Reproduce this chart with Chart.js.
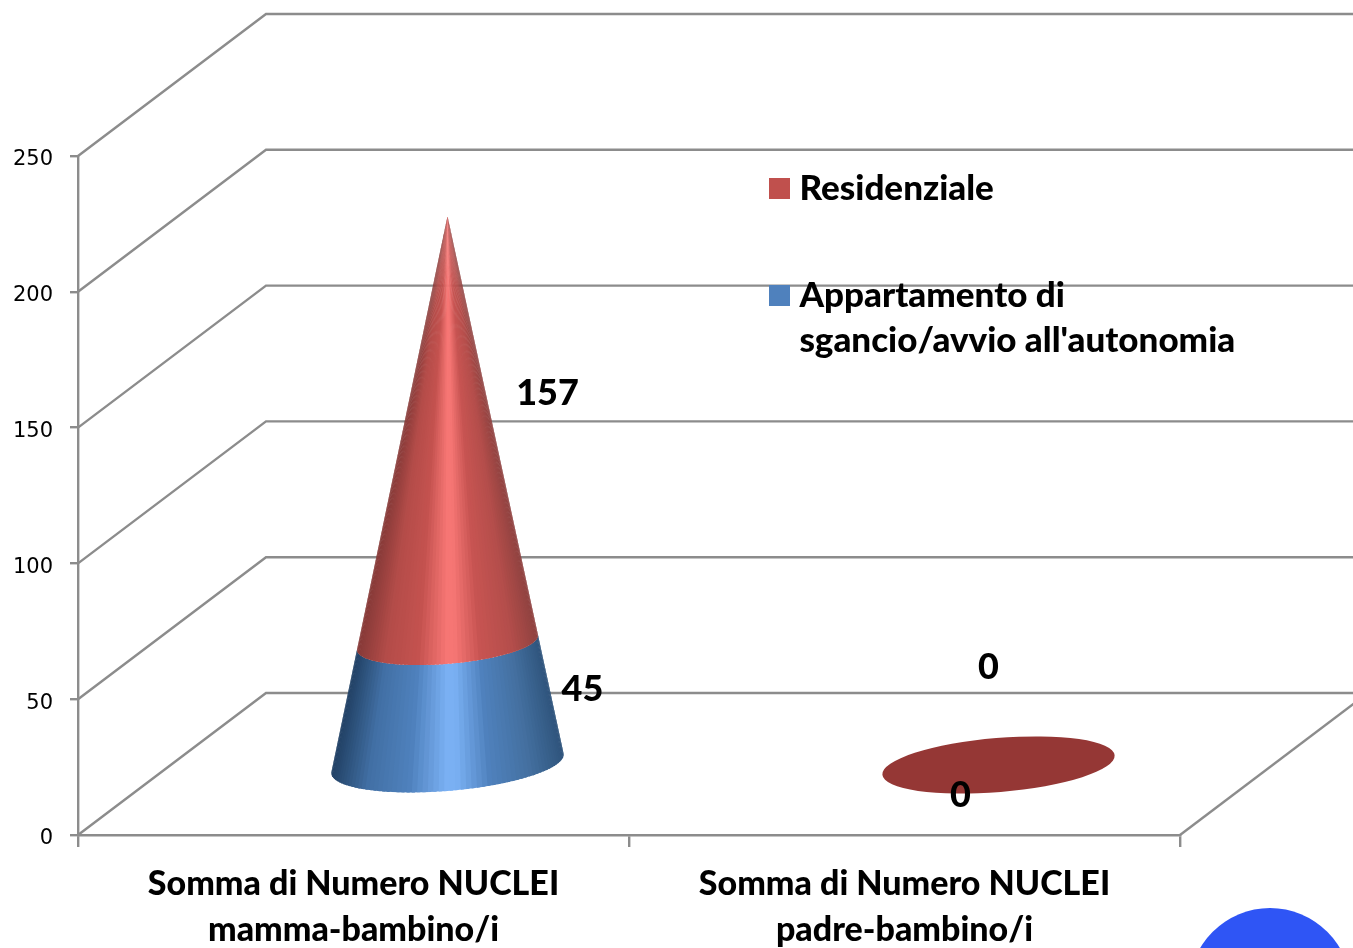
<!DOCTYPE html>
<html><head><meta charset="utf-8">
<style>html,body{margin:0;padding:0;background:#fff;overflow:hidden}canvas{display:block}</style>
<script src="https://cdn.jsdelivr.net/npm/chart.js@4/dist/chart.umd.min.js"></script>
</head><body><canvas id="c" width="1353" height="948"></canvas>
<script>
const categories = [["Somma di Numero NUCLEI","mamma-bambino/i"],["Somma di Numero NUCLEI","padre-bambino/i"]];
const appartamento = [45,0];
const residenziale = [157,0];
const appartamentoName = ["Appartamento di","sgancio/avvio all'autonomia"];
const residenzialeName = "Residenziale";
const yTicks = {min:0,max:250,step:50};

const GRID='#8c8c8c', DX=188, DY=142, FLOOR_MID=DY/2-1;
const FF='Lato, Carlito, "Open Sans", sans-serif';
const ramp = [
 [[-1,[34,66,102]],[-.7,[66,112,165]],[-.35,[79,129,189]],[-.03,[122,176,243]],[.06,[122,176,243]],[.35,[79,129,189]],[.7,[68,112,160]],[1,[47,84,124]]],
 [[-1,[135,58,56]],[-.7,[180,76,73]],[-.35,[196,82,79]],[-.03,[246,118,116]],[.06,[246,118,116]],[.35,[199,84,82]],[.7,[181,78,75]],[1,[143,66,64]]]
];
function shade(r,t){
  for(let i=1;i<r.length;i++){ if(t<=r[i][0]){
    const a=r[i-1],b=r[i],k=Math.max(0,(t-a[0])/(b[0]-a[0]));
    return 'rgb('+a[1].map((v,j)=>Math.round(v+(b[1][j]-v)*k)).join(',')+')';
  }}
  return 'rgb('+r[r.length-1][1].join(',')+')';
}
const labelOffsets=[[[135,-13],[-38,31]],[[100,-35],[-10,-97]]];
function boxImage(color){
  const c=document.createElement('canvas');c.width=21;c.height=21;
  const x=c.getContext('2d');x.fillStyle=color;x.fillRect(0,0,21,21);return c;
}
const LEGEND_FS=35;
const LEGEND_PAD=107-LEGEND_FS;

const cone3d={
 id:'cone3d',
 afterLayout(chart){
  const l=chart.legend;
  l.left=777-LEGEND_PAD; l.top=188.5-LEGEND_FS/2-LEGEND_PAD; l.right=1353; l.bottom=948;
 },
 beforeDraw(chart){
  const {ctx,chartArea:a,scales:{y}}=chart;
  ctx.save();
  ctx.strokeStyle=GRID;ctx.lineWidth=2.4;ctx.lineJoin='miter';
  y.ticks.forEach(t=>{
    const py=y.getPixelForValue(t.value);
    ctx.beginPath();ctx.moveTo(a.left,py);ctx.lineTo(a.left+DX,py-DY);ctx.lineTo(a.right+DX,py-DY);
    ctx.stroke();
  });
  ctx.beginPath();ctx.moveTo(a.right,a.bottom);ctx.lineTo(a.right+DX,a.bottom-DY);ctx.stroke();
  ctx.restore();
 },
 beforeDatasetsDraw(chart){
  const {ctx}=chart;
  const m0=chart.getDatasetMeta(0),m1=chart.getDatasetMeta(1);
  const phi=-4.8*Math.PI/180,cp=Math.cos(phi),sp=Math.sin(phi);
  m0.data.forEach((e0,i)=>{
    const e1=m1.data[i];
    const cx=e0.x+DX/2, baseY=e0.base-FLOOR_MID, topY=e1.y-FLOOR_MID, H=baseY-topY;
    const A=e0.width/2, B=27;
    if(H<1){
      ctx.save();ctx.fillStyle='#953735';ctx.beginPath();
      ctx.ellipse(cx,baseY,A,B,phi,0,Math.PI*2);ctx.fill();ctx.restore();return;
    }
    const pt=(th,f)=>{
      const ex=A*Math.cos(th),ey=B*Math.sin(th);
      return [cx+f*(ex*cp-ey*sp), topY+f*H+f*(ex*sp+ey*cp)];
    };
    [[e0,0],[e1,1]].forEach(([el,k])=>{
      const f0=(el.base-FLOOR_MID-topY)/H, f1=(el.y-FLOOR_MID-topY)/H;
      const N=70,t0=-0.09,t1=Math.PI+0.09,step=(t1-t0)/N;
      ctx.save();
      for(let n=N-1;n>=0;n--){
        const a0=t0+step*n,a1=Math.max(t0,a0-step*0.6),a2=a0+step;
        const p=[pt(a1,f0),pt(a2,f0),pt(a2,f1),pt(a1,f1)];
        ctx.fillStyle=shade(ramp[k],Math.cos(a0+step/2));
        ctx.beginPath();ctx.moveTo(p[0][0],p[0][1]);
        for(let q=1;q<4;q++)ctx.lineTo(p[q][0],p[q][1]);
        ctx.closePath();ctx.fill();
      }
      ctx.restore();
    });
  });
  return false;
 },
 afterDraw(chart){
  const {ctx,data}=chart;
  ctx.save();
  ctx.font='900 36px '+FF;ctx.fillStyle='#000';ctx.textAlign='center';ctx.textBaseline='middle';
  data.datasets.forEach((ds,d)=>{
    chart.getDatasetMeta(d).data.forEach((el,i)=>{
      const [ox,oy]=labelOffsets[d][i];
      const mid=(el.y+el.base)/2;
      ctx.fillText(String(ds.data[i]),el.x+DX/2+ox,mid-DY/2+oy);
    });
  });
  ctx.fillStyle='#2f55f5';ctx.beginPath();ctx.arc(1270,989,81,0,Math.PI*2);ctx.fill();
  ctx.restore();
 }
};

new Chart(document.getElementById('c'),{
 type:'bar',
 data:{labels:categories,datasets:[
  {label:appartamentoName.join(' '),data:appartamento,backgroundColor:'#4f81bd',stack:'s'},
  {label:residenzialeName,data:residenziale,backgroundColor:'#c0504d',stack:'s'}
 ]},
 plugins:[cone3d],
 options:{
  responsive:false,animation:false,
  categoryPercentage:1,barPercentage:0.423,
  layout:{padding:{top:156,right:173,bottom:0,left:0}},
  plugins:{
   tooltip:{enabled:false},
   legend:{
    position:'chartArea',align:'start',
    labels:{
     usePointStyle:true,boxWidth:5,boxHeight:21,padding:LEGEND_PAD,color:'#000',
     font:{family:FF,weight:'900',size:LEGEND_FS,lineHeight:45/LEGEND_FS},
     generateLabels(chart){
      return [
       {text:residenzialeName,fillStyle:'#c0504d',strokeStyle:'#c0504d',lineWidth:0,pointStyle:boxImage('#c0504d'),datasetIndex:1},
       {text:appartamentoName,fillStyle:'#4f81bd',strokeStyle:'#4f81bd',lineWidth:0,pointStyle:boxImage('#4f81bd'),datasetIndex:0}
      ];
     }
    }
   }
  },
  scales:{
   x:{stacked:true,
    afterFit(s){s.height=113;},
    border:{color:GRID,width:2.4},
    grid:{drawOnChartArea:false,color:GRID,lineWidth:2.4,tickLength:12,tickWidth:2.4,tickColor:GRID},
    ticks:{color:'#000',maxRotation:0,autoSkip:false,padding:14,font:{family:FF,weight:'900',size:34,lineHeight:46/34}}
   },
   y:{stacked:true,min:yTicks.min,max:yTicks.max,
    afterFit(s){s.width=78;},
    border:{color:GRID,width:2.4},
    grid:{drawOnChartArea:false,color:GRID,lineWidth:2.4,tickLength:8,tickColor:GRID},
    ticks:{stepSize:yTicks.step,color:'#000',padding:17,labelOffset:4,font:{family:'"DejaVu Sans"',size:21}}
   }
  }
 }
});
</script></body></html>
